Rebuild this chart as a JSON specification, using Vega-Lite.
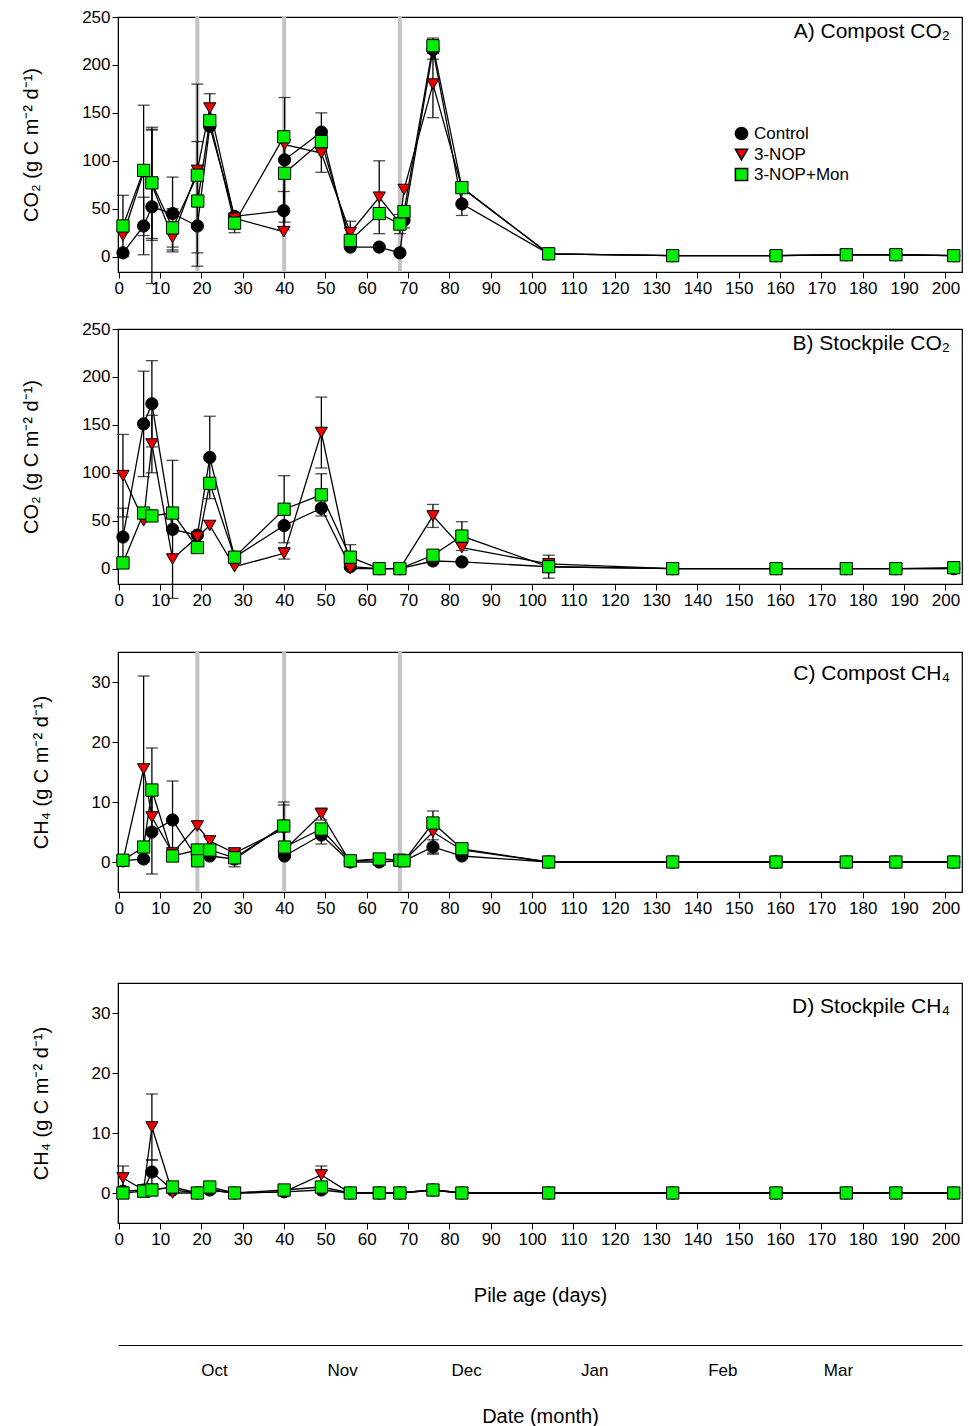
{
  "$schema": "https://vega.github.io/schema/vega-lite/v6.json",
  "background": "white",
  "padding": {"left": 21, "top": 7, "right": 5, "bottom": 5},
  "config": {
    "font": "Liberation Sans",
    "view": {"stroke": "black", "strokeWidth": 1.2},
    "axis": {"grid": false, "labelFont": "Liberation Sans", "labelFontSize": 17, "labelColor": "black", "titleFont": "Liberation Sans", "titleFontSize": 20, "titleFontWeight": "normal", "titleColor": "black", "domainColor": "black", "tickColor": "black", "tickSize": 6},
    "axisY": {"titlePadding": 40},
    "title": {"font": "Liberation Sans", "fontSize": 21, "fontWeight": "normal", "anchor": "end", "offset": -34, "dx": -12},
    "legend": {"labelFont": "Liberation Sans", "labelFontSize": 17}
  },
  "datasets": {
    "m": [
      {"p":"A","t":"Control","d":1,"v":4},{"p":"A","t":"Control","d":6,"v":32,"e":30},{"p":"A","t":"Control","d":8,"v":52,"e":80},{"p":"A","t":"Control","d":13,"v":45,"e":38},{"p":"A","t":"Control","d":19,"v":32,"e":28},{"p":"A","t":"Control","d":22,"v":136},{"p":"A","t":"Control","d":28,"v":42},{"p":"A","t":"Control","d":39.9,"v":48,"e":20},{"p":"A","t":"Control","d":40.1,"v":101,"e":65},{"p":"A","t":"Control","d":49,"v":130,"e":20},{"p":"A","t":"Control","d":56,"v":10},{"p":"A","t":"Control","d":63,"v":10},{"p":"A","t":"Control","d":68,"v":4},{"p":"A","t":"Control","d":69,"v":38,"e":8},{"p":"A","t":"Control","d":76,"v":216,"e":10},{"p":"A","t":"Control","d":83,"v":55,"e":12},{"p":"A","t":"Control","d":104,"v":3},{"p":"A","t":"Control","d":134,"v":1},{"p":"A","t":"Control","d":159,"v":1},{"p":"A","t":"Control","d":176,"v":2},{"p":"A","t":"Control","d":188,"v":2},{"p":"A","t":"Control","d":202,"v":1},
      {"p":"A","t":"3-NOP","d":1,"v":22},{"p":"A","t":"3-NOP","d":6,"v":88},{"p":"A","t":"3-NOP","d":8,"v":75,"e":58},{"p":"A","t":"3-NOP","d":13,"v":20,"e":15},{"p":"A","t":"3-NOP","d":19,"v":90,"e":30},{"p":"A","t":"3-NOP","d":22,"v":155,"e":15},{"p":"A","t":"3-NOP","d":28,"v":40},{"p":"A","t":"3-NOP","d":39.9,"v":26},{"p":"A","t":"3-NOP","d":40.1,"v":117},{"p":"A","t":"3-NOP","d":49,"v":108,"e":20},{"p":"A","t":"3-NOP","d":56,"v":25,"e":12},{"p":"A","t":"3-NOP","d":63,"v":62,"e":38},{"p":"A","t":"3-NOP","d":68,"v":35},{"p":"A","t":"3-NOP","d":69,"v":70},{"p":"A","t":"3-NOP","d":76,"v":180,"e":35},{"p":"A","t":"3-NOP","d":83,"v":72},{"p":"A","t":"3-NOP","d":104,"v":3},{"p":"A","t":"3-NOP","d":134,"v":1},{"p":"A","t":"3-NOP","d":159,"v":1},{"p":"A","t":"3-NOP","d":176,"v":2},{"p":"A","t":"3-NOP","d":188,"v":2},{"p":"A","t":"3-NOP","d":202,"v":1},
      {"p":"A","t":"3-NOP+Mon","d":1,"v":32,"e":32},{"p":"A","t":"3-NOP+Mon","d":6,"v":90,"e":68},{"p":"A","t":"3-NOP+Mon","d":8,"v":77,"e":58},{"p":"A","t":"3-NOP+Mon","d":13,"v":30,"e":20},{"p":"A","t":"3-NOP+Mon","d":19,"v":85,"e":95},{"p":"A","t":"3-NOP+Mon","d":19.1,"v":58},{"p":"A","t":"3-NOP+Mon","d":22,"v":142},{"p":"A","t":"3-NOP+Mon","d":28,"v":35,"e":10},{"p":"A","t":"3-NOP+Mon","d":39.9,"v":125},{"p":"A","t":"3-NOP+Mon","d":40.1,"v":87},{"p":"A","t":"3-NOP+Mon","d":49,"v":120},{"p":"A","t":"3-NOP+Mon","d":56,"v":17},{"p":"A","t":"3-NOP+Mon","d":63,"v":45},{"p":"A","t":"3-NOP+Mon","d":68,"v":34,"e":10},{"p":"A","t":"3-NOP+Mon","d":69,"v":47},{"p":"A","t":"3-NOP+Mon","d":76,"v":220,"e":8},{"p":"A","t":"3-NOP+Mon","d":83,"v":72},{"p":"A","t":"3-NOP+Mon","d":104,"v":3},{"p":"A","t":"3-NOP+Mon","d":134,"v":1},{"p":"A","t":"3-NOP+Mon","d":159,"v":1},{"p":"A","t":"3-NOP+Mon","d":176,"v":2},{"p":"A","t":"3-NOP+Mon","d":188,"v":2},{"p":"A","t":"3-NOP+Mon","d":202,"v":1},

      {"p":"B","t":"Control","d":1,"v":33,"e":30},{"p":"B","t":"Control","d":6,"v":151,"e":55},{"p":"B","t":"Control","d":8,"v":172,"e":45},{"p":"B","t":"Control","d":13,"v":41,"e":72},{"p":"B","t":"Control","d":19,"v":35},{"p":"B","t":"Control","d":22,"v":116,"e":43},{"p":"B","t":"Control","d":28,"v":12},{"p":"B","t":"Control","d":40,"v":45},{"p":"B","t":"Control","d":49,"v":63},{"p":"B","t":"Control","d":56,"v":2},{"p":"B","t":"Control","d":63,"v":0},{"p":"B","t":"Control","d":68,"v":0},{"p":"B","t":"Control","d":76,"v":8},{"p":"B","t":"Control","d":83,"v":7},{"p":"B","t":"Control","d":104,"v":2},{"p":"B","t":"Control","d":134,"v":0},{"p":"B","t":"Control","d":159,"v":0},{"p":"B","t":"Control","d":176,"v":0},{"p":"B","t":"Control","d":188,"v":0},{"p":"B","t":"Control","d":202,"v":0},
      {"p":"B","t":"3-NOP","d":1,"v":97,"e":43},{"p":"B","t":"3-NOP","d":6,"v":50},{"p":"B","t":"3-NOP","d":8,"v":130,"e":30},{"p":"B","t":"3-NOP","d":13,"v":10},{"p":"B","t":"3-NOP","d":19,"v":33},{"p":"B","t":"3-NOP","d":22,"v":45},{"p":"B","t":"3-NOP","d":28,"v":2},{"p":"B","t":"3-NOP","d":40,"v":16,"e":6},{"p":"B","t":"3-NOP","d":49,"v":142,"e":37},{"p":"B","t":"3-NOP","d":56,"v":0},{"p":"B","t":"3-NOP","d":63,"v":0},{"p":"B","t":"3-NOP","d":68,"v":0},{"p":"B","t":"3-NOP","d":76,"v":55,"e":12},{"p":"B","t":"3-NOP","d":83,"v":22},{"p":"B","t":"3-NOP","d":104,"v":5},{"p":"B","t":"3-NOP","d":134,"v":0},{"p":"B","t":"3-NOP","d":159,"v":0},{"p":"B","t":"3-NOP","d":176,"v":0},{"p":"B","t":"3-NOP","d":188,"v":0},{"p":"B","t":"3-NOP","d":202,"v":0},
      {"p":"B","t":"3-NOP+Mon","d":1,"v":6},{"p":"B","t":"3-NOP+Mon","d":6,"v":58},{"p":"B","t":"3-NOP+Mon","d":8,"v":55},{"p":"B","t":"3-NOP+Mon","d":13,"v":58},{"p":"B","t":"3-NOP+Mon","d":19,"v":22},{"p":"B","t":"3-NOP+Mon","d":22,"v":89},{"p":"B","t":"3-NOP+Mon","d":28,"v":12},{"p":"B","t":"3-NOP+Mon","d":40,"v":62,"e":35},{"p":"B","t":"3-NOP+Mon","d":49,"v":77,"e":22},{"p":"B","t":"3-NOP+Mon","d":56,"v":12,"e":13},{"p":"B","t":"3-NOP+Mon","d":63,"v":0},{"p":"B","t":"3-NOP+Mon","d":68,"v":0},{"p":"B","t":"3-NOP+Mon","d":76,"v":14},{"p":"B","t":"3-NOP+Mon","d":83,"v":34,"e":15},{"p":"B","t":"3-NOP+Mon","d":104,"v":2,"e":12},{"p":"B","t":"3-NOP+Mon","d":134,"v":0},{"p":"B","t":"3-NOP+Mon","d":159,"v":0},{"p":"B","t":"3-NOP+Mon","d":176,"v":0},{"p":"B","t":"3-NOP+Mon","d":188,"v":0},{"p":"B","t":"3-NOP+Mon","d":202,"v":1},

      {"p":"C","t":"Control","d":1,"v":0.2},{"p":"C","t":"Control","d":6,"v":0.5},{"p":"C","t":"Control","d":8,"v":5,"e":7},{"p":"C","t":"Control","d":13,"v":7,"e":6.5},{"p":"C","t":"Control","d":19,"v":0.5},{"p":"C","t":"Control","d":22,"v":1},{"p":"C","t":"Control","d":28,"v":0.5},{"p":"C","t":"Control","d":39.9,"v":6,"e":4},{"p":"C","t":"Control","d":40.1,"v":1},{"p":"C","t":"Control","d":49,"v":4.5,"e":1.5},{"p":"C","t":"Control","d":56,"v":0},{"p":"C","t":"Control","d":63,"v":0},{"p":"C","t":"Control","d":68,"v":0.2},{"p":"C","t":"Control","d":69,"v":0.2},{"p":"C","t":"Control","d":76,"v":2.5,"e":1.2},{"p":"C","t":"Control","d":83,"v":1},{"p":"C","t":"Control","d":104,"v":0},{"p":"C","t":"Control","d":134,"v":0},{"p":"C","t":"Control","d":159,"v":0},{"p":"C","t":"Control","d":176,"v":0},{"p":"C","t":"Control","d":188,"v":0},{"p":"C","t":"Control","d":202,"v":0},
      {"p":"C","t":"3-NOP","d":1,"v":0.2},{"p":"C","t":"3-NOP","d":6,"v":15.5,"e":15.5},{"p":"C","t":"3-NOP","d":8,"v":7.5},{"p":"C","t":"3-NOP","d":13,"v":1.5},{"p":"C","t":"3-NOP","d":19,"v":6},{"p":"C","t":"3-NOP","d":22,"v":3.5},{"p":"C","t":"3-NOP","d":28,"v":1.5},{"p":"C","t":"3-NOP","d":39.9,"v":5.5,"e":4},{"p":"C","t":"3-NOP","d":40.1,"v":2},{"p":"C","t":"3-NOP","d":49,"v":8,"e":1},{"p":"C","t":"3-NOP","d":56,"v":0},{"p":"C","t":"3-NOP","d":63,"v":0.5},{"p":"C","t":"3-NOP","d":68,"v":0.3},{"p":"C","t":"3-NOP","d":69,"v":0.2},{"p":"C","t":"3-NOP","d":76,"v":5,"e":3.5},{"p":"C","t":"3-NOP","d":83,"v":2},{"p":"C","t":"3-NOP","d":104,"v":0},{"p":"C","t":"3-NOP","d":134,"v":0},{"p":"C","t":"3-NOP","d":159,"v":0},{"p":"C","t":"3-NOP","d":176,"v":0},{"p":"C","t":"3-NOP","d":188,"v":0},{"p":"C","t":"3-NOP","d":202,"v":0},
      {"p":"C","t":"3-NOP+Mon","d":1,"v":0.3},{"p":"C","t":"3-NOP+Mon","d":6,"v":2.5},{"p":"C","t":"3-NOP+Mon","d":8,"v":12,"e":7},{"p":"C","t":"3-NOP+Mon","d":13,"v":1},{"p":"C","t":"3-NOP+Mon","d":19,"v":2},{"p":"C","t":"3-NOP+Mon","d":19.1,"v":0.2},{"p":"C","t":"3-NOP+Mon","d":22,"v":2},{"p":"C","t":"3-NOP+Mon","d":28,"v":0.7,"e":1.5},{"p":"C","t":"3-NOP+Mon","d":39.9,"v":6},{"p":"C","t":"3-NOP+Mon","d":40.1,"v":2.5},{"p":"C","t":"3-NOP+Mon","d":49,"v":5.5},{"p":"C","t":"3-NOP+Mon","d":56,"v":0.2},{"p":"C","t":"3-NOP+Mon","d":63,"v":0.5},{"p":"C","t":"3-NOP+Mon","d":68,"v":0.3},{"p":"C","t":"3-NOP+Mon","d":69,"v":0.2},{"p":"C","t":"3-NOP+Mon","d":76,"v":6.5},{"p":"C","t":"3-NOP+Mon","d":83,"v":2.2},{"p":"C","t":"3-NOP+Mon","d":104,"v":0},{"p":"C","t":"3-NOP+Mon","d":134,"v":0},{"p":"C","t":"3-NOP+Mon","d":159,"v":0},{"p":"C","t":"3-NOP+Mon","d":176,"v":0},{"p":"C","t":"3-NOP+Mon","d":188,"v":0},{"p":"C","t":"3-NOP+Mon","d":202,"v":0},

      {"p":"D","t":"Control","d":1,"v":0.3},{"p":"D","t":"Control","d":6,"v":0.5},{"p":"D","t":"Control","d":8,"v":3.5,"e":2},{"p":"D","t":"Control","d":13,"v":0.5},{"p":"D","t":"Control","d":19,"v":0},{"p":"D","t":"Control","d":22,"v":0.5},{"p":"D","t":"Control","d":28,"v":0},{"p":"D","t":"Control","d":40,"v":0.2},{"p":"D","t":"Control","d":49,"v":0.5},{"p":"D","t":"Control","d":56,"v":0},{"p":"D","t":"Control","d":63,"v":0},{"p":"D","t":"Control","d":68,"v":0},{"p":"D","t":"Control","d":76,"v":0.5},{"p":"D","t":"Control","d":83,"v":0},{"p":"D","t":"Control","d":104,"v":0},{"p":"D","t":"Control","d":134,"v":0},{"p":"D","t":"Control","d":159,"v":0},{"p":"D","t":"Control","d":176,"v":0},{"p":"D","t":"Control","d":188,"v":0},{"p":"D","t":"Control","d":202,"v":0},
      {"p":"D","t":"3-NOP","d":1,"v":2.5,"e":2},{"p":"D","t":"3-NOP","d":6,"v":0.5},{"p":"D","t":"3-NOP","d":8,"v":11,"e":5.5},{"p":"D","t":"3-NOP","d":13,"v":0},{"p":"D","t":"3-NOP","d":19,"v":0},{"p":"D","t":"3-NOP","d":22,"v":0.5},{"p":"D","t":"3-NOP","d":28,"v":0},{"p":"D","t":"3-NOP","d":40,"v":0.2},{"p":"D","t":"3-NOP","d":49,"v":3,"e":1.5},{"p":"D","t":"3-NOP","d":56,"v":0},{"p":"D","t":"3-NOP","d":63,"v":0},{"p":"D","t":"3-NOP","d":68,"v":0},{"p":"D","t":"3-NOP","d":76,"v":0.5},{"p":"D","t":"3-NOP","d":83,"v":0},{"p":"D","t":"3-NOP","d":104,"v":0},{"p":"D","t":"3-NOP","d":134,"v":0},{"p":"D","t":"3-NOP","d":159,"v":0},{"p":"D","t":"3-NOP","d":176,"v":0},{"p":"D","t":"3-NOP","d":188,"v":0},{"p":"D","t":"3-NOP","d":202,"v":0},
      {"p":"D","t":"3-NOP+Mon","d":1,"v":0},{"p":"D","t":"3-NOP+Mon","d":6,"v":0.3},{"p":"D","t":"3-NOP+Mon","d":8,"v":0.5},{"p":"D","t":"3-NOP+Mon","d":13,"v":1},{"p":"D","t":"3-NOP+Mon","d":19,"v":0},{"p":"D","t":"3-NOP+Mon","d":22,"v":1},{"p":"D","t":"3-NOP+Mon","d":28,"v":0},{"p":"D","t":"3-NOP+Mon","d":40,"v":0.5},{"p":"D","t":"3-NOP+Mon","d":49,"v":1},{"p":"D","t":"3-NOP+Mon","d":56,"v":0},{"p":"D","t":"3-NOP+Mon","d":63,"v":0},{"p":"D","t":"3-NOP+Mon","d":68,"v":0},{"p":"D","t":"3-NOP+Mon","d":76,"v":0.5},{"p":"D","t":"3-NOP+Mon","d":83,"v":0},{"p":"D","t":"3-NOP+Mon","d":104,"v":0},{"p":"D","t":"3-NOP+Mon","d":134,"v":0},{"p":"D","t":"3-NOP+Mon","d":159,"v":0},{"p":"D","t":"3-NOP+Mon","d":176,"v":0},{"p":"D","t":"3-NOP+Mon","d":188,"v":0},{"p":"D","t":"3-NOP+Mon","d":202,"v":0}
    ]
  },
  "spacing": 40,
  "vconcat": [
   {
    "spacing": 22,
    "vconcat": [
    {
      "width": 844, "height": 255,
      "title": {"text": "A) Compost CO₂"},
      "layer": [
        {"data": {"values": [{"d": 19}, {"d": 40}, {"d": 68}]}, "mark": {"type": "rule", "color": "#c4c4c4", "strokeWidth": 4},
         "encoding": {"x": {"field": "d", "type": "quantitative", "scale": {"domain": [-0.2, 204], "nice": false, "zero": false}, "axis": {"values": [0,10,20,30,40,50,60,70,80,90,100,110,120,130,140,150,160,170,180,190,200], "title": null, "labelFlush": false}}}},
        {"data": {"name": "m"}, "transform": [{"filter": "datum.p=='A'"}], "mark": {"type": "line", "color": "black", "strokeWidth": 1.3},
         "encoding": {"x": {"field": "d", "type": "quantitative"}, "y": {"field": "v", "type": "quantitative", "title": "CO₂ (g C m⁻² d⁻¹)", "scale": {"domain": [-16, 250], "nice": false, "zero": false}, "axis": {"values": [0,50,100,150,200,250]}}, "detail": {"field": "t"}, "order": {"field": "d"}}},
        {"data": {"name": "m"}, "transform": [{"filter": "datum.p=='A' && datum.e>0"}], "mark": {"type": "errorbar", "ticks": {"size": 12, "color": "black"}, "color": "black", "thickness": 1.3},
         "encoding": {"x": {"field": "d", "type": "quantitative"}, "y": {"field": "v", "type": "quantitative", "title": "CO₂ (g C m⁻² d⁻¹)"}, "yError": {"field": "e"}}},
        {"data": {"name": "m"}, "transform": [{"filter": "datum.p=='A'"}], "mark": {"type": "point", "filled": true, "size": 150, "stroke": "black", "strokeWidth": 1, "opacity": 1},
         "encoding": {
           "x": {"field": "d", "type": "quantitative"},
           "y": {"field": "v", "type": "quantitative", "title": "CO₂ (g C m⁻² d⁻¹)"},
           "fill": {"field": "t", "type": "nominal", "scale": {"domain": ["Control", "3-NOP", "3-NOP+Mon"], "range": ["#000000", "#ee0000", "#00ee00"]}, "legend": {"title": null, "orient": "none", "legendX": 615, "legendY": 108, "symbolSize": 150, "symbolStrokeColor": "black", "rowPadding": 2}},
           "shape": {"field": "t", "type": "nominal", "scale": {"domain": ["Control", "3-NOP", "3-NOP+Mon"], "range": ["circle", "triangle-down", "square"]}, "legend": {"title": null}}
         }}
      ]
    },
    {
      "width": 844, "height": 255,
      "title": {"text": "B) Stockpile CO₂"},
      "layer": [
        {"data": {"name": "m"}, "transform": [{"filter": "datum.p=='B'"}], "mark": {"type": "line", "color": "black", "strokeWidth": 1.3},
         "encoding": {"x": {"field": "d", "type": "quantitative", "scale": {"domain": [-0.2, 204], "nice": false, "zero": false}, "axis": {"values": [0,10,20,30,40,50,60,70,80,90,100,110,120,130,140,150,160,170,180,190,200], "title": null, "labelFlush": false}},
           "y": {"field": "v", "type": "quantitative", "title": "CO₂ (g C m⁻² d⁻¹)", "scale": {"domain": [-16, 250], "nice": false, "zero": false}, "axis": {"values": [0,50,100,150,200,250]}}, "detail": {"field": "t"}, "order": {"field": "d"}}},
        {"data": {"name": "m"}, "transform": [{"filter": "datum.p=='B' && datum.e>0"}], "mark": {"type": "errorbar", "ticks": {"size": 12, "color": "black"}, "color": "black", "thickness": 1.3},
         "encoding": {"x": {"field": "d", "type": "quantitative"}, "y": {"field": "v", "type": "quantitative", "title": "CO₂ (g C m⁻² d⁻¹)"}, "yError": {"field": "e"}}},
        {"data": {"name": "m"}, "transform": [{"filter": "datum.p=='B'"}], "mark": {"type": "point", "filled": true, "size": 150, "stroke": "black", "strokeWidth": 1, "opacity": 1},
         "encoding": {
           "x": {"field": "d", "type": "quantitative"},
           "y": {"field": "v", "type": "quantitative", "title": "CO₂ (g C m⁻² d⁻¹)"},
           "fill": {"field": "t", "type": "nominal", "legend": null},
           "shape": {"field": "t", "type": "nominal", "legend": null}
         }}
      ]
    }
    ]
   },
   {
    "spacing": 65,
    "vconcat": [
    {
      "width": 844, "height": 240,
      "title": {"text": "C) Compost CH₄"},
      "layer": [
        {"data": {"values": [{"d": 19}, {"d": 40}, {"d": 68}]}, "mark": {"type": "rule", "color": "#c4c4c4", "strokeWidth": 4},
         "encoding": {"x": {"field": "d", "type": "quantitative", "scale": {"domain": [-0.2, 204], "nice": false, "zero": false}, "axis": {"values": [0,10,20,30,40,50,60,70,80,90,100,110,120,130,140,150,160,170,180,190,200], "title": null, "labelFlush": false}}}},
        {"data": {"name": "m"}, "transform": [{"filter": "datum.p=='C'"}], "mark": {"type": "line", "color": "black", "strokeWidth": 1.3},
         "encoding": {"x": {"field": "d", "type": "quantitative"}, "y": {"field": "v", "type": "quantitative", "title": "CH₄ (g C m⁻² d⁻¹)", "scale": {"domain": [-5, 35], "nice": false, "zero": false}, "axis": {"values": [0,10,20,30]}}, "detail": {"field": "t"}, "order": {"field": "d"}}},
        {"data": {"name": "m"}, "transform": [{"filter": "datum.p=='C' && datum.e>0"}], "mark": {"type": "errorbar", "ticks": {"size": 12, "color": "black"}, "color": "black", "thickness": 1.3},
         "encoding": {"x": {"field": "d", "type": "quantitative"}, "y": {"field": "v", "type": "quantitative", "title": "CH₄ (g C m⁻² d⁻¹)"}, "yError": {"field": "e"}}},
        {"data": {"name": "m"}, "transform": [{"filter": "datum.p=='C'"}], "mark": {"type": "point", "filled": true, "size": 150, "stroke": "black", "strokeWidth": 1, "opacity": 1},
         "encoding": {
           "x": {"field": "d", "type": "quantitative"},
           "y": {"field": "v", "type": "quantitative", "title": "CH₄ (g C m⁻² d⁻¹)"},
           "fill": {"field": "t", "type": "nominal", "legend": null},
           "shape": {"field": "t", "type": "nominal", "legend": null}
         }}
      ]
    },
    {
      "width": 844, "height": 240,
      "title": {"text": "D) Stockpile CH₄"},
      "resolve": {"axis": {"x": "independent"}},
      "layer": [
        {"data": {"name": "m"}, "transform": [{"filter": "datum.p=='D'"}], "mark": {"type": "line", "color": "black", "strokeWidth": 1.3},
         "encoding": {"x": {"field": "d", "type": "quantitative", "scale": {"domain": [-0.2, 204], "nice": false, "zero": false},
           "axis": {"orient": "bottom", "offset": 122, "values": [23, 54, 84, 115, 146, 174], "labelExpr": "['Oct','Nov','Dec','Jan','Feb','Mar'][indexof([23,54,84,115,146,174], datum.value)]", "ticks": false, "labelPadding": 17, "title": "Date (month)", "titlePadding": 28}},
           "y": {"field": "v", "type": "quantitative", "title": "CH₄ (g C m⁻² d⁻¹)", "scale": {"domain": [-5, 35], "nice": false, "zero": false}, "axis": {"values": [0,10,20,30]}}, "detail": {"field": "t"}, "order": {"field": "d"}}},
        {"data": {"name": "m"}, "transform": [{"filter": "datum.p=='D' && datum.e>0"}], "mark": {"type": "errorbar", "ticks": {"size": 12, "color": "black"}, "color": "black", "thickness": 1.3},
         "encoding": {"x": {"field": "d", "type": "quantitative", "axis": null}, "y": {"field": "v", "type": "quantitative", "title": "CH₄ (g C m⁻² d⁻¹)"}, "yError": {"field": "e"}}},
        {"data": {"name": "m"}, "transform": [{"filter": "datum.p=='D'"}], "mark": {"type": "point", "filled": true, "size": 150, "stroke": "black", "strokeWidth": 1, "opacity": 1},
         "encoding": {
           "x": {"field": "d", "type": "quantitative", "axis": {"orient": "bottom", "values": [0,10,20,30,40,50,60,70,80,90,100,110,120,130,140,150,160,170,180,190,200], "title": "Pile age (days)", "titlePadding": 38, "labelFlush": false}},
           "y": {"field": "v", "type": "quantitative", "title": "CH₄ (g C m⁻² d⁻¹)"},
           "fill": {"field": "t", "type": "nominal", "legend": null},
           "shape": {"field": "t", "type": "nominal", "legend": null}
         }}
      ]
    }
    ]
   }
  ]
}
